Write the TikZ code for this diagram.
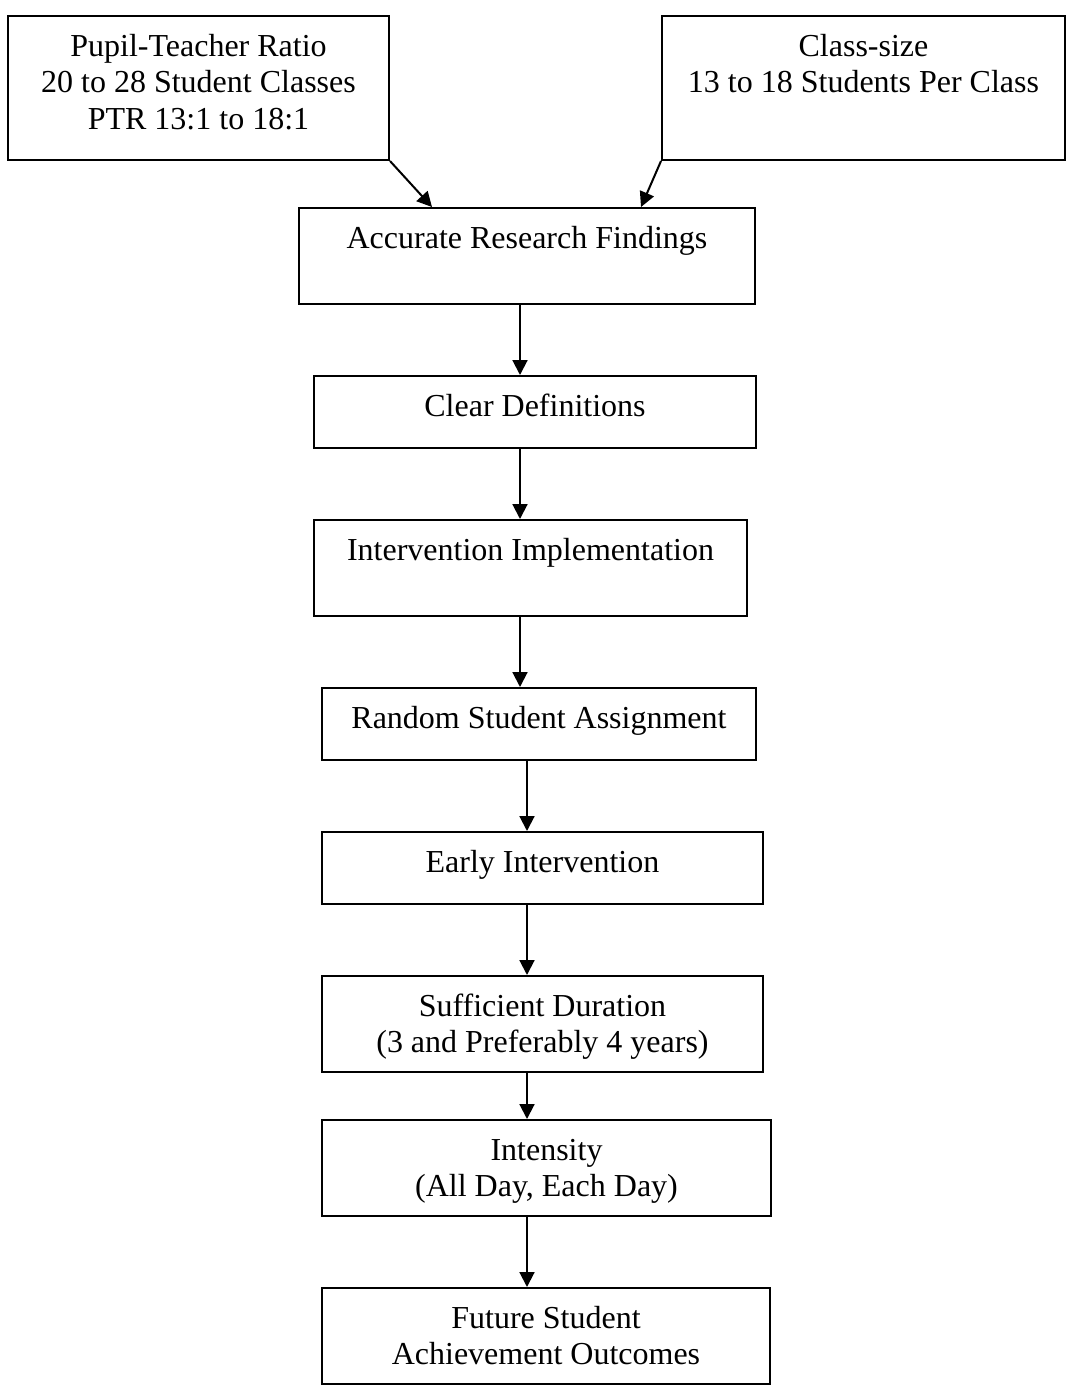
\documentclass[tikz,border=0pt]{standalone}
\usepackage{fontspec}
\setmainfont{Liberation Serif}
\usepackage{tikz}
\usetikzlibrary{shapes, arrows.meta, positioning}
\usetikzlibrary{calc}

\begin{document}
\begin{tikzpicture}
  [
    x=0.375pt, y=-0.375pt,
    Box/.style={rectangle, draw=black, line width=0.75pt, inner sep=0pt, align=flush center,
      anchor=north, font=\fontsize{12}{13.8}\selectfont, text height=15pt},
    Tall/.style={Box, text depth=39pt},
    Mid/.style={Box, text depth=21pt},
    Short/.style={Box, text depth=12pt},
    Link/.style={-{Triangle[length=5.6pt, width=5.6pt]}, draw, line width=0.75pt}
  ]
  \useasboundingbox (0,0) rectangle (1070,1394);
  % Nodes
  \node[Tall, text width=142.875pt] (ptr) at(198.5, 15) {Pupil-Teacher Ratio\\20 to 28 Student Classes\\PTR 13:1 to 18:1};
  \node[Tall, text width=151.125pt] (size) at(863.5, 15) {Class-size\\13 to 18 Students Per Class};
  \node[Mid, text width=171pt] (research) at(527, 207) {Accurate Research Findings};
  \node[Short, text width=165.75pt] (defs) at(535, 375) {Clear Definitions};
  \node[Mid, text width=162.375pt] (impl) at(530.5, 519) {Intervention Implementation};
  \node[Short, text width=162.75pt] (assign) at(539, 687) {Random Student Assignment};
  \node[Short, text width=165.375pt] (early) at(542.5, 831) {Early Intervention};
  \node[Mid, text width=165.375pt] (duration) at(542.5, 975) {Sufficient Duration\\(3 and Preferably 4 years)};
  \node[Mid, text width=168.375pt] (intensity) at(546.5, 1119) {Intensity\\(All Day, Each Day)};
  \node[Mid, text width=168pt] (outcomes) at(546, 1287) {Future Student\\Achievement Outcomes};
  \coordinate (spineA) at(520, 0);
  \coordinate (spineB) at(527, 0);
  % Lines
  \path [Link] (ptr.south east) -- ($(research.north west)+(134,0)$);
  \path [Link] (size.south west) -- ($(research.north east)+(-115,0)$);
  \path [Link] (research.south -| spineA) -- (defs.north -| spineA);
  \path [Link] (defs.south -| spineA) -- (impl.north -| spineA);
  \path [Link] (impl.south -| spineA) -- (assign.north -| spineA);
  \path [Link] (assign.south -| spineB) -- (early.north -| spineB);
  \path [Link] (early.south -| spineB) -- (duration.north -| spineB);
  \path [Link] (duration.south -| spineB) -- (intensity.north -| spineB);
  \path [Link] (intensity.south -| spineB) -- (outcomes.north -| spineB);
\end{tikzpicture}
\end{document}
